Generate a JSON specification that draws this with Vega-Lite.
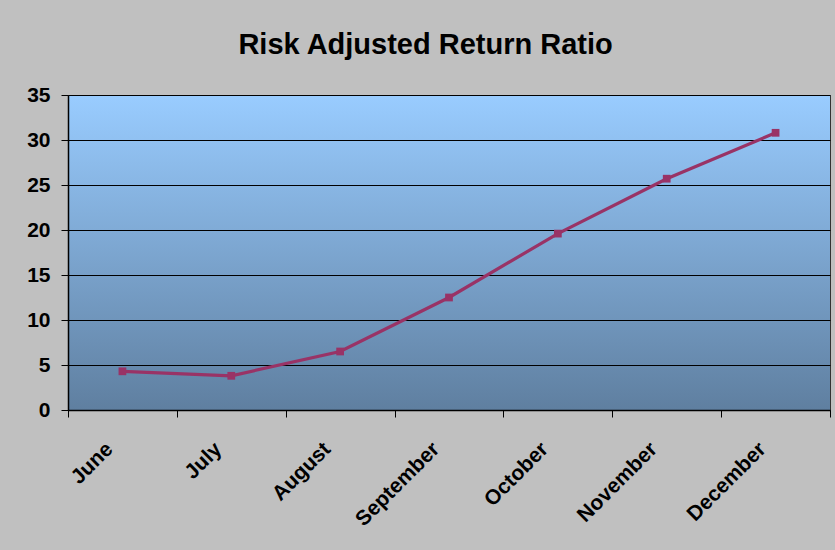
{
  "$schema": "https://vega.github.io/schema/vega-lite/v6.json",
  "autosize": "none",
  "width": 762,
  "height": 315,
  "padding": {"left": 68, "top": 95, "right": 5, "bottom": 140},
  "background": "#C0C0C0",
  "title": {
    "text": "Risk Adjusted Return Ratio",
    "font": "Liberation Sans",
    "fontSize": 29,
    "fontWeight": "bold",
    "color": "#000000",
    "anchor": "middle",
    "frame": "bounds",
    "offset": 24,
    "dx": -3
  },
  "config": {
    "view": {
      "stroke": "#333333",
      "strokeWidth": 1,
      "fill": {
        "gradient": "linear",
        "x1": 0, "y1": 0, "x2": 0, "y2": 1,
        "stops": [
          {"offset": 0, "color": "#99CCFF"},
          {"offset": 1, "color": "#5F7FA0"}
        ]
      }
    },
    "axis": {
      "labelFont": "Liberation Sans",
      "labelFontWeight": "bold",
      "labelColor": "#000000",
      "domainColor": "#000000",
      "domainWidth": 1.5,
      "tickColor": "#000000",
      "tickSize": 7,
      "tickWidth": 1,
      "gridColor": "#000000",
      "gridOpacity": 1,
      "gridWidth": 1.2,
      "title": null
    }
  },
  "data": {
    "values": [
      {"month": "June", "ratio": 4.3},
      {"month": "July", "ratio": 3.8},
      {"month": "August", "ratio": 6.5},
      {"month": "September", "ratio": 12.5},
      {"month": "October", "ratio": 19.6},
      {"month": "November", "ratio": 25.7},
      {"month": "December", "ratio": 30.8}
    ]
  },
  "mark": {
    "type": "line",
    "color": "#993366",
    "strokeWidth": 3.2,
    "point": {"shape": "square", "size": 60, "filled": true, "color": "#993366", "opacity": 1}
  },
  "encoding": {
    "x": {
      "field": "month",
      "type": "ordinal",
      "sort": null,
      "scale": {"type": "band", "paddingInner": 0, "paddingOuter": 0},
      "axis": {
        "labelAngle": -45,
        "labelFontSize": 21,
        "tickBand": "extent",
        "grid": false,
        "labelPadding": 21,
        "labelOffset": -21
      }
    },
    "y": {
      "field": "ratio",
      "type": "quantitative",
      "scale": {"domain": [0, 35], "nice": false},
      "axis": {
        "values": [0, 5, 10, 15, 20, 25, 30, 35],
        "labelFontSize": 21,
        "grid": true,
        "labelPadding": 11
      }
    }
  }
}
